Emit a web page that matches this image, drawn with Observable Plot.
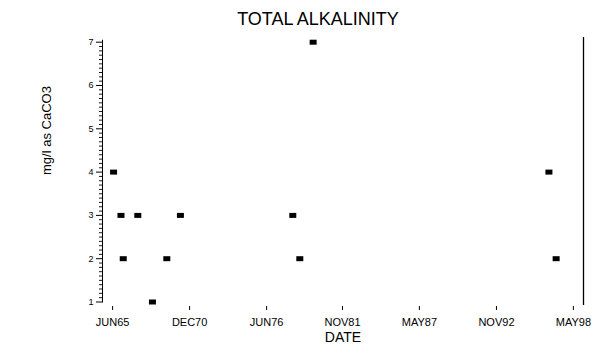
<!DOCTYPE html>
<html>
<head>
<meta charset="utf-8">
<script src="https://cdn.jsdelivr.net/npm/d3@7"></script>
<script src="https://cdn.jsdelivr.net/npm/@observablehq/plot@0.6"></script>
<style>
  html, body { margin: 0; padding: 0; background: #fff; }
  svg { display: block; }
</style>
</head>
<body>
<div id="chart"></div>
<script>
// Sample dates and total alkalinity values (mg/l as CaCO3)
const sampleDates = [
  "1965-06-26", "1966-01-05", "1966-03-05", "1967-03-20", "1968-04-05", "1969-04-15",
  "1970-04-05", "1978-04-15", "1978-10-15", "1979-09-28", "1996-08-01", "1997-02-05"
];
const alkalinity = [4, 3, 2, 3, 1, 2, 3, 3, 2, 7, 4, 2];

// Axis ticks
const xTickDates = ["1965-06-01", "1970-12-01", "1976-06-01", "1981-11-01", "1987-05-01", "1992-11-01", "1998-05-01"];
const xTickLabels = ["JUN65", "DEC70", "JUN76", "NOV81", "MAY87", "NOV92", "MAY98"];
const yTicks = [1, 2, 3, 4, 5, 6, 7];
const yMinorTicks = d3.range(10, 71).filter(v => v % 10 !== 0).map(v => v / 10);

const xDomain = [new Date("1964-09-10"), new Date("1999-01-20")];

const data = sampleDates.map((d, i) => ({date: new Date(d), value: alkalinity[i]}));
const tickDates = xTickDates.map(d => new Date(d));

const rectSymbol = {
  draw(ctx) { ctx.rect(-3.5, -2.5, 7, 5); }
};

const chart = Plot.plot({
  width: 605,
  height: 354,
  marginLeft: 102,
  marginRight: 22,
  marginTop: 37,
  marginBottom: 48,
  style: {fontFamily: "'Liberation Sans', Arial, sans-serif", background: "#fff", color: "#000"},
  x: {type: "utc", domain: xDomain},
  y: {domain: [1, 7], range: [301.5, 41.7]},
  marks: [
    // left axis line
    Plot.ruleX([xDomain[0]], {y1: 0.975, y2: 7.045, stroke: "#000", strokeWidth: 1}),
    // right frame line
    Plot.ruleX([xDomain[1]], {y1: 7.11, y2: 0.92, stroke: "#000", strokeWidth: 1.3}),
    Plot.axisY({ticks: yMinorTicks, tickSize: 3, tickFormat: () => "", stroke: "#000", strokeOpacity: 0.9, label: null}),
    Plot.axisY({ticks: yTicks, tickSize: 6, tickPadding: 3, fontSize: 9, stroke: "#000",
      tickFormat: d => String(d), label: null}),
    Plot.axisX({ticks: tickDates, tickFormat: (d, i) => xTickLabels[i], tickSize: 4, tickPadding: 8,
      fontSize: 11, stroke: "#000", label: null}),
    Plot.dot(data, {x: "date", y: "value", symbol: rectSymbol, r: 3, fill: "#000", stroke: "none"}),
    Plot.text(["TOTAL ALKALINITY"], {frameAnchor: "top", dx: -25, dy: -25, fontSize: 18, fill: "#000"}),
    Plot.text(["DATE"], {frameAnchor: "bottom", dx: 0, dy: 35, fontSize: 14, fill: "#000"}),
    Plot.text(["mg/l as CaCO3"], {frameAnchor: "left", dx: -56, dy: 3, rotate: -90, fontSize: 13, fill: "#000"})
  ]
});

document.getElementById("chart").appendChild(chart);
</script>
</body>
</html>
